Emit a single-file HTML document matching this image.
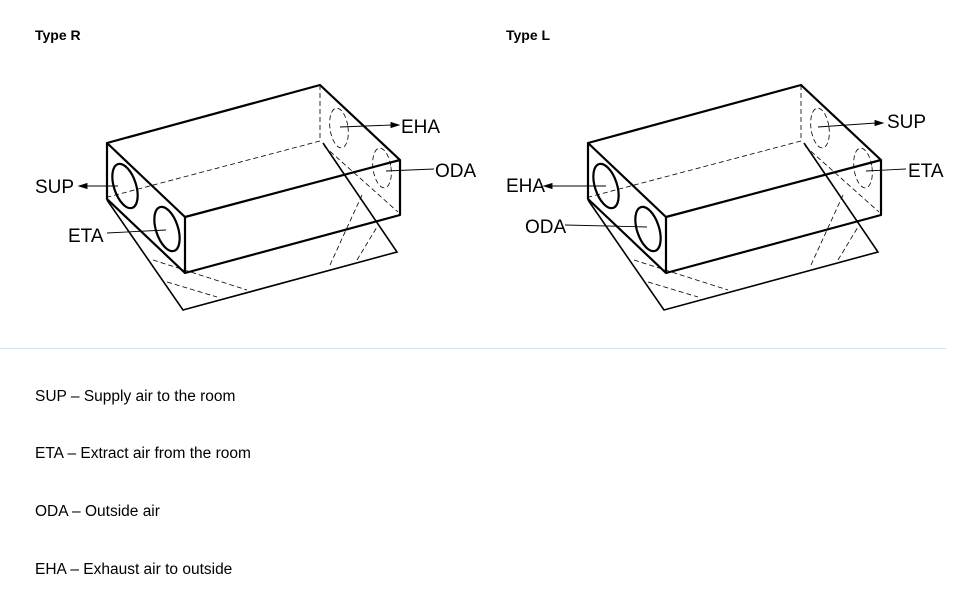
<!DOCTYPE html>
<html><head><meta charset="utf-8"><style>
body{margin:0;background:#fff;width:977px;height:603px;overflow:hidden;font-family:"Liberation Sans",Arial,sans-serif;}
svg{position:absolute;left:0;top:0}
</style></head><body>
<svg width="977" height="603" viewBox="0 0 977 603" xmlns="http://www.w3.org/2000/svg">
<defs>
<g id="box" fill="none" stroke="#000">
  <polyline points="107,200 183,310 397,252 323,143" stroke-width="1.6"/>
  <g stroke-width="0.8" stroke-dasharray="5,3">
    <line x1="320" y1="85" x2="320" y2="141"/>
    <line x1="320" y1="141" x2="108" y2="197"/>
    <line x1="324" y1="146" x2="398" y2="212"/>
    <line x1="153" y1="260" x2="247" y2="290"/>
    <line x1="167" y1="282" x2="217" y2="297"/>
    <line x1="330" y1="265" x2="362" y2="195"/>
    <line x1="357" y1="260" x2="377" y2="227"/>
    <ellipse cx="339" cy="128" rx="9" ry="20" transform="rotate(-8 339 128)"/>
    <ellipse cx="382" cy="168" rx="9" ry="20" transform="rotate(-8 382 168)"/>
  </g>
  <g stroke-width="2.2" stroke-linejoin="round" fill="none">
    <polygon points="107,143 320,85 400,160 185,217"/>
    <polyline points="107,143 107,199 185,273 185,217"/>
    <polyline points="185,273 400,215 400,160"/>
    <ellipse cx="125" cy="186" rx="11" ry="23" transform="rotate(-18 125 186)"/>
    <ellipse cx="167" cy="229" rx="11" ry="23" transform="rotate(-18 167 229)"/>
  </g>
</g>
</defs>
<use href="#box"/>
<use href="#box" transform="translate(481,0)"/>
<g stroke="#000" stroke-width="0.9" fill="#000">
  <line x1="118" y1="186" x2="85" y2="186"/><polygon points="79,186 87,183.5 87,188.5"/>
  <line x1="107" y1="233" x2="166" y2="230"/>
  <line x1="340" y1="127" x2="392" y2="125"/><polygon points="399,125 391,122.5 391,127.5"/>
  <line x1="386" y1="171" x2="434" y2="169"/>
  <line x1="606" y1="186" x2="550" y2="186"/><polygon points="544,186 552,183.5 552,188.5"/>
  <line x1="565" y1="225" x2="647" y2="227"/>
  <line x1="818" y1="127" x2="876" y2="123"/><polygon points="883,123 875,120.5 875,125.5"/>
  <line x1="866" y1="171" x2="906" y2="169"/>
</g>
<g font-family="Liberation Sans, Arial, sans-serif" font-size="19" fill="#000">
  <text x="35" y="193">SUP</text>
  <text x="68" y="242">ETA</text>
  <text x="401" y="133">EHA</text>
  <text x="435" y="177">ODA</text>
  <text x="506" y="192">EHA</text>
  <text x="525" y="233">ODA</text>
  <text x="887" y="128">SUP</text>
  <text x="908" y="177">ETA</text>
</g>
<g font-family="Liberation Sans, Arial, sans-serif" font-size="14" font-weight="bold" fill="#000">
  <text x="35" y="40">Type R</text>
  <text x="506" y="40">Type L</text>
</g>
<line x1="0" y1="348.5" x2="946" y2="348.5" stroke="#d6e2ee" stroke-width="1"/>
<g font-family="Liberation Sans, Arial, sans-serif" font-size="15.5" fill="#000">
  <text x="35" y="401">SUP – Supply air to the room</text>
  <text x="35" y="458">ETA – Extract air from the room</text>
  <text x="35" y="516">ODA – Outside air</text>
  <text x="35" y="574">EHA – Exhaust air to outside</text>
</g>
</svg>
</body></html>
